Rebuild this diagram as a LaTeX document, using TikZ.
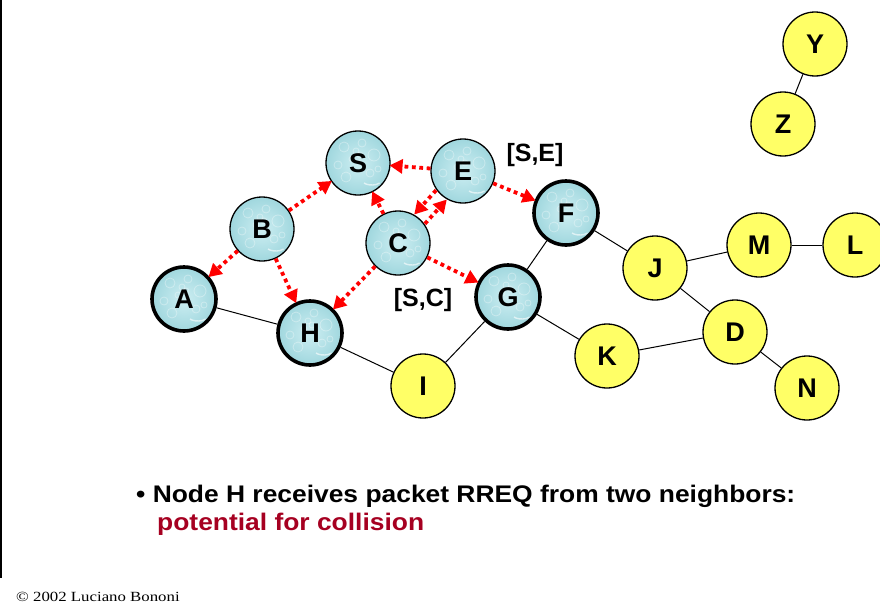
\documentclass[tikz,border=0pt]{standalone}
\usepackage{fontspec}
\setmainfont{Liberation Sans}
\newfontfamily\timesfont{Liberation Serif}
\usetikzlibrary{arrows.meta}

\definecolor{bubble}{RGB}{160,215,222}
\definecolor{bubblehi}{RGB}{205,238,242}
\definecolor{sunny}{RGB}{255,255,102}
\definecolor{alertred}{RGB}{166,0,33}
\definecolor{floodred}{RGB}{255,0,0}

\tikzset{
  station/.style={circle, minimum size=64pt, inner sep=0pt, draw=black,
    line width=1.3pt, font=\fontsize{27}{27}\selectfont\bfseries},
  % water-drop texture of the covered nodes
  drops/.style={path picture={
    \foreach \dx/\dy/\r in {-14/-16/5, 4/-20/4, 16/-8/6, -20/2/4, -6/-4/3, 12/10/4,
                            -12/14/5, 20/6/3, 2/-8/3, -2/-12/3} {
      \draw[white, opacity=0.35, line width=0.8pt]
        ([shift={(\dx pt,-\dy pt)}]path picture bounding box.center) circle (\r pt);
    }
    \draw[white, opacity=0.6, line width=1.4pt]
      ([shift={(6pt,-20pt)}]path picture bounding box.center)
      arc[start angle=210, end angle=330, x radius=9pt, y radius=4pt];
  }},
  covered/.style={station, inner color=bubblehi, outer color=bubble, drops},
  reached/.style={covered, line width=3.6pt},
  idle/.style={station, fill=sunny},
  link/.style={draw=black, line width=1pt},
  flood/.style={draw=floodred, line width=3.8pt, dash pattern=on 3.8pt off 3.6pt,
    -{Triangle[length=13pt,width=14pt]}, shorten >=-1pt},
  hdr/.style={font=\fontsize{25}{25}\selectfont\bfseries, inner sep=0pt},
  caption/.style={anchor=base west, inner sep=0pt, font=\fontsize{24}{24}\selectfont\bfseries}
}

\begin{document}
\begin{tikzpicture}[x=1pt,y=-1pt]
\useasboundingbox (0,0) rectangle (880,605);
\fill[white] (0,0) rectangle (880,605);
% slide frame edge
\draw[black, line width=2pt] (1,0) -- (1,578);

% nodes already reached by the request
\node[covered] (S) at (358,163) {S};
\node[covered] (E) at (463,171) {E};
\node[covered] (B) at (262,229) {B};
\node[covered] (C) at (398,243) {C};
\node[reached] (A) at (184,299) {A};
\node[reached] (H) at (310,333) {H};
\node[reached] (F) at (566,213) {F};
\node[reached] (G) at (508,297) {G};

% nodes not yet reached
\node[idle] (I) at (423,386) {I};
\node[idle] (J) at (655,268) {J};
\node[idle] (M) at (759,245) {M};
\node[idle] (L) at (855,245) {L};
\node[idle] (K) at (607,356) {K};
\node[idle] (D) at (735,332) {D};
\node[idle] (N) at (807,388) {N};
\node[idle] (Y) at (815,44) {Y};
\node[idle] (Z) at (783,124) {Z};

% plain links
\draw[link] (A) -- (H);
\draw[link] (H) -- (I);
\draw[link] (I) -- (G);
\draw[link] (G) -- (F);
\draw[link] (G) -- (K);
\draw[link] (F) -- (J);
\draw[link] (J) -- (M);
\draw[link] (M) -- (L);
\draw[link] (J) -- (D);
\draw[link] (K) -- (D);
\draw[link] (D) -- (N);
\draw[link] (Y) -- (Z);

% RREQ flooding
\draw[flood] (E) -- (S);
\draw[flood] (B) -- (S);
\draw[flood] (C) -- (S);
\draw[flood, transform canvas={xshift=-5pt,yshift=5pt}] (E) -- (C);
\draw[flood, transform canvas={xshift=5pt,yshift=-5pt}] (C) -- (E);
\draw[flood] (E) -- (F);
\draw[flood] (C) -- (G);
\draw[flood] (C) -- (H);
\draw[flood] (B) -- (A);
\draw[flood] (B) -- (H);

% route records carried by the packets
\node[hdr] (hSE) at (535,155) {[S,E]};
\node[hdr] (hSC) at (423,300) {[S,C]};

% caption
\node[caption] (cap1) at (136,502)
  {\scalebox{1.1}[1]{\textbullet\ Node H receives packet RREQ from two neighbors:}};
\node[caption, text=alertred] (cap2) at (157,530)
  {\scalebox{1.1}[1]{potential for collision}};

\node[anchor=base west, inner sep=0pt, font=\timesfont\fontsize{14}{14}\selectfont] (copy) at (16,601)
  {\scalebox{1.2}[1]{\textcopyright\ 2002 Luciano Bononi}};
\end{tikzpicture}
\end{document}
